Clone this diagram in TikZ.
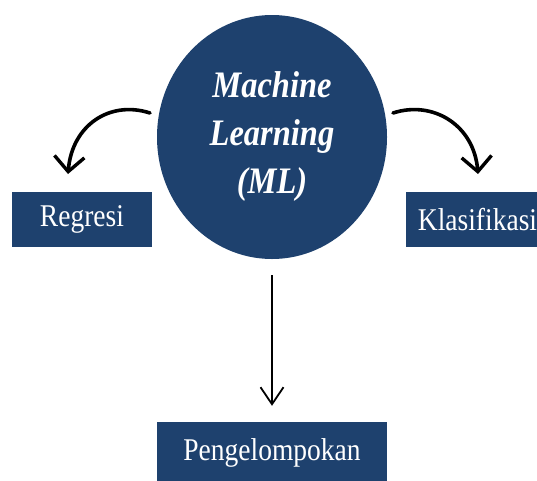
\documentclass[tikz,border=0pt]{standalone}
\usepackage{graphicx}
\usepackage{fontspec}
\setmainfont{Liberation Serif}
\usetikzlibrary{shapes.geometric,arrows.meta}
\definecolor{navy}{RGB}{30,65,110}
\newcommand{\vstretch}[1]{\scalebox{1}[1.15]{#1}}
\tikzset{
  mlbox/.style={fill=navy, draw=none, text=white, inner sep=0pt, minimum height=55pt,
    font=\fontsize{27.5}{30}\selectfont},
  curvearrow/.style={line width=3.6pt, line cap=round, -{Straight Barb[length=15pt,width=30pt,line width=3.4pt]}},
  downarrow/.style={line width=1.8pt, -{Straight Barb[length=17pt,width=23pt,line width=1.8pt]}}
}
\begin{document}
\begin{tikzpicture}[x=1pt,y=-1pt]
\useasboundingbox[fill=white] (0,0) rectangle (537,480);
\node[ellipse, fill=navy, minimum width=230pt, minimum height=244pt, inner sep=0pt,
  text=white, align=center, font=\fontsize{32.5}{48}\selectfont\bfseries\itshape]
  (ml) at (272,137) {\vstretch{Machine}\\\vstretch{Learning}\\\vstretch{(ML)}};
\node[mlbox, minimum width=140pt] (reg) at (82,219.5) {\vstretch{Regresi}};
\node[mlbox, minimum width=131pt] (kla) at (471.5,219.5) {\hspace*{12pt}\vstretch{Klasifikasi}};
\node[mlbox, minimum width=230pt, minimum height=62pt] (pen) at (272,453) {\vstretch{Pengelompokan}};
\coordinate (ls) at (150,113);
\coordinate (le) at (68,174);
\coordinate (rs) at (393,113);
\coordinate (re) at (478,174);
\draw[curvearrow] (ls) .. controls (110,100) and (72,125) .. (le);
\draw[curvearrow] (rs) .. controls (433,100) and (474,125) .. (re);
\draw[downarrow, shorten <=16pt, shorten >=16pt] (ml.south) -- (pen.north);
\end{tikzpicture}
\end{document}
